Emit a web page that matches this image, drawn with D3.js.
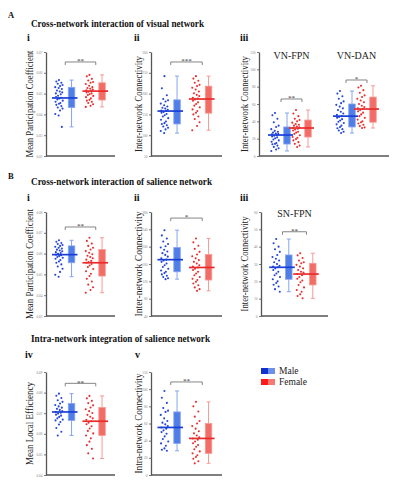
<!DOCTYPE html>
<html><head><meta charset="utf-8">
<script src="https://cdn.jsdelivr.net/npm/d3@7"></script>
<style>body{margin:0;background:#fff}</style>
</head><body>
<svg id="c" width="395" height="500"></svg>
<script>
const sexes = ["Male", "Female"];

// ---------- A-i : Mean Participation Coefficient (visual) ----------
const ticksAi = [0.02, 0.03, 0.04, 0.05, 0.06, 0.07];
const aiMale = [0.0565,0.0558,0.0552,0.0547,0.0541,0.0536,0.0531,0.0527,0.0522,0.0515,0.0510,0.0506,0.0501,0.0497,0.0490,0.0484,0.0480,0.0476,0.0472,0.0466,0.0461,0.0455,0.0451,0.0446,0.0440,0.0433,0.0428,0.0419,0.0402,0.0395,0.0340];
const aiFemale = [0.0590,0.0583,0.0571,0.0563,0.0556,0.0552,0.0546,0.0538,0.0531,0.0527,0.0523,0.0519,0.0516,0.0512,0.0509,0.0505,0.0501,0.0497,0.0493,0.0489,0.0483,0.0477,0.0470,0.0466,0.0461,0.0455,0.0449,0.0441,0.0436];
const aiMaleStats = [0.0340, 0.0433, 0.0479, 0.0530, 0.0565];
const aiFemaleStats = [0.0436, 0.0469, 0.0512, 0.0552, 0.0590];

// ---------- A-ii : Inter-network Connectivity (visual) ----------
const ticksAii = [50, 100, 150, 200, 250, 300];
const aiiMale = [242,213,196,187,184,181,176,172,169,166,164,161,159,158,156,154,151,148,145,141,137,133,129,127,124,121,118,114,110,105];
const aiiFemale = [242,236,231,226,221,218,214,210,205,201,197,194,190,188,186,183,179,175,171,167,162,158,154,150,145,139,131,122,112];
const aiiMaleStats = [105, 127, 158, 185, 242];
const aiiFemaleStats = [112, 153, 187, 218, 242];

// ---------- A-iii : VN-FPN / VN-DAN ----------
const ticksAiii = [0, 20, 40, 60, 80, 100, 120];
const pairsAiii = ["VN-FPN", "VN-DAN"];
const fpnMale = [49.6,47,43,39,35,33.5,31,29,28,27,26,25.5,25,24.2,23.5,22.5,21.5,20.5,19,18,16.5,15,14,13.5,12,10.5,9,7.5,5.8];
const fpnFemale = [53,49,46,43,41.5,40,38.5,37,36,35,34,33,32.3,31.5,30.5,29.5,28,27,25.5,24,22,21,19.5,18,16,14,12,10.4];
const fpnMaleStats = [5.8, 13.8, 24.2, 33.5, 49.6];
const fpnFemaleStats = [10.4, 21.9, 32.3, 41.5, 53];
const danMale = [75,72,69,66,63,61,59,57,55,53,51,49,47.5,46,45,44,42.5,41,39.5,38,36.5,35,33.5,32,31,29.5,28,26.5];
const danFemale = [81,79,76,73,70,68,66,64,62,60,58,56.5,55,54.2,53,51.5,50,48,46,44,42,40,39,37.5,36,34.5,33,32.3];
const danMaleStats = [26.5, 33.5, 46, 60, 75];
const danFemaleStats = [32.3, 39, 54.2, 68, 81];

// ---------- B-i : Mean Participation Coefficient (salience) ----------
const ticksBi = [0.03, 0.04, 0.05, 0.06, 0.07, 0.08];
const biMale = [0.0664,0.0657,0.0651,0.0646,0.0641,0.0637,0.0633,0.0628,0.0624,0.0619,0.0615,0.0611,0.0607,0.0603,0.0599,0.0595,0.0592,0.0588,0.0584,0.0580,0.0575,0.0569,0.0562,0.0556,0.0548,0.0538,0.0527,0.0512,0.0498,0.0489];
const biFemale = [0.0676,0.0661,0.0648,0.0637,0.0628,0.0620,0.0612,0.0604,0.0597,0.0590,0.0584,0.0578,0.0571,0.0565,0.0559,0.0556,0.0550,0.0543,0.0535,0.0526,0.0515,0.0503,0.0492,0.0479,0.0466,0.0451,0.0438,0.0425,0.0412];
const biMaleStats = [0.0489, 0.0556, 0.0595, 0.0637, 0.0664];
const biFemaleStats = [0.0412, 0.0492, 0.0556, 0.0620, 0.0676];

// ---------- B-ii : Inter-network Connectivity (salience) ----------
const ticksBii = [40, 80, 120, 160, 200, 240, 280];
const biiMale = [238,226,219,212,206,201,198,193,189,185,181,177,173,170,168,165,161,157,153,149,145,142,139,136,133,130,127,125];
const biiFemale = [219,210,202,195,188,182,178,173,169,165,161,157,154,152,149,146,142,138,134,130,126,123,119,115,111,106,102,98];
const biiMaleStats = [125, 142, 170, 198, 238];
const biiFemaleStats = [98, 123, 152, 182, 219];

// ---------- B-iii : SN-FPN ----------
const ticksBiii = [0, 10, 20, 30, 40, 50, 60];
const pairsBiii = ["SN-FPN"];
const biiiMale = [44.4,42,40,38.5,37,35.2,34,33,32,31,30,29,28.5,28.1,27.5,26.5,25.5,24.5,23.5,22.5,21.2,20,19,18,17,15.5,14];
const biiiFemale = [36.2,35,33.5,32,31,30.4,29.5,28.5,27.5,26.5,25.5,25,24.2,23.5,22.5,21.5,20.5,19.5,17.9,16.5,15,14,12.5,11.5,10.2];
const biiiMaleStats = [14, 21.2, 28.1, 35.2, 44.4];
const biiiFemaleStats = [10.2, 17.9, 24.2, 30.4, 36.2];

// ---------- C-iv : Mean Local Efficiency ----------
const ticksCiv = [0.04, 0.05, 0.06, 0.07, 0.08, 0.09];
const civMale = [0.0795,0.0785,0.0774,0.0763,0.0755,0.0747,0.0740,0.0733,0.0727,0.0721,0.0716,0.0711,0.0706,0.0702,0.0698,0.0693,0.0688,0.0682,0.0675,0.0669,0.0665,0.0657,0.0645,0.0628,0.0610,0.0592];
const civFemale = [0.0784,0.0772,0.0760,0.0749,0.0738,0.0728,0.0719,0.0710,0.0701,0.0692,0.0683,0.0675,0.0668,0.0661,0.0654,0.0646,0.0637,0.0626,0.0614,0.0602,0.0592,0.0578,0.0562,0.0545,0.0527,0.0505,0.0480];
const civMaleStats = [0.0592, 0.0665, 0.0706, 0.0747, 0.0795];
const civFemaleStats = [0.0480, 0.0592, 0.0661, 0.0728, 0.0784];

// ---------- C-v : Intra-network Connectivity ----------
const ticksCv = [0, 20, 40, 60, 80, 100, 120];
const cvMale = [97.9,90,84,78,75,73.5,70,66,63,61,59,57,55.4,54,52,50,48,45,42,39,36.8,34,31,29.5,28.2];
const cvFemale = [85.2,80,74,68,63,60,57,54,51,48.5,46,44,42.6,41,39,37,35,33,30,27.5,25.2,23,21,19,16,13.6];
const cvMaleStats = [28.2, 36.8, 55.4, 73.5, 97.9];
const cvFemaleStats = [13.6, 25.2, 42.6, 60, 85.2];

// significance (bracket level in data units, stars)
const sigLevels = { ai: 0.0652, aii: 276, fpn: 65.8, dan: 87.7, bi: 0.0728, bii: 266, biii: 48.6, civ: 0.0845, cv: 108.4 };
const sigStars  = { ai: "**", aii: "***", fpn: "**", dan: "*", bi: "**", bii: "*", biii: "**", civ: "**", cv: "**" };

// ---------------------------------------------------------------
const svg = d3.select("#c");
const serif = "'Liberation Serif','Times New Roman','DejaVu Serif',serif";
const col = {
  Male:   { dot: "#2346d9", box: "#4f7ee6", edge: "#86a4ee", med: "#1a3fd8", dark: "#1030d0", light: "#6a90ea" },
  Female: { dot: "#e8302e", box: "#f26d66", edge: "#f59b96", med: "#ea2b2b", dark: "#ff1a1a", light: "#f47a72" }
};

function text(x, y, s, opts = {}) {
  const t = svg.append("text").attr("x", x).attr("y", y).text(s)
    .attr("font-family", serif).attr("font-size", opts.size || 9)
    .attr("font-weight", opts.bold ? "bold" : "normal")
    .attr("fill", opts.fill || "#111")
    .attr("text-anchor", opts.anchor || "start");
  if (opts.len) t.attr("textLength", opts.len).attr("lengthAdjust", "spacingAndGlyphs");
  return t;
}

// deterministic horizontal spread for the dot clouds (layout only)
const spread = [0, -2.6, 2.4, -1.2, 3.6, 1.1, -3.7, -0.3, 2.9, -2.0, 0.8, 3.3, -3.1, 1.8, -0.9, -2.9, 2.1, 0.2, -1.6, 3.8, -3.4, 1.4];

function drawPanel(p) {
  const g = svg.append("g");
  const y = d3.scaleLinear().domain(p.domain).range(p.y);
  const outer = d3.scaleBand().domain(p.groups.map(d => d.name)).range(p.x).paddingOuter(0).paddingInner(0);
  const inner = d3.scaleBand().domain(sexes).range([0, outer.bandwidth()]).paddingOuter(p.pi).paddingInner(0);
  const off = p.off || 6.3, bw = 6.5;

  // axes
  const ax = d3.axisLeft(y).tickValues(p.ticks).tickFormat(p.fmt).tickSize(2).tickSizeOuter(0).tickPadding(1.5);
  const axg = g.append("g").attr("transform", `translate(${p.x[0]},0)`).call(ax);
  axg.select(".domain").attr("stroke", "#555").attr("stroke-width", 1.3);
  axg.selectAll(".tick line").attr("stroke", "#555").attr("stroke-width", 0.8);
  axg.selectAll(".tick text").attr("font-size", 3.5).attr("fill", "#888").attr("font-family", serif);
  g.append("line").attr("x1", p.x[0]).attr("x2", p.x[1]).attr("y1", p.y[0]).attr("y2", p.y[0])
    .attr("stroke", "#555").attr("stroke-width", 1.3);

  // y label
  const cy = (p.y[0] + p.y[1]) / 2;
  g.append("text").attr("transform", `translate(${p.ylx},${cy}) rotate(-90)`)
    .attr("text-anchor", "middle").attr("font-family", serif).attr("font-size", 11)
    .attr("fill", "#222").attr("textLength", p.yll).attr("lengthAdjust", "spacingAndGlyphs")
    .text(p.ylabel);

  p.groups.forEach(grp => {
    const cx = s => outer(grp.name) + inner(s) + inner.bandwidth() / 2;
    if (grp.label) {
      g.append("text").attr("x", outer(grp.name) + outer.bandwidth() / 2).attr("y", p.labelY)
        .attr("text-anchor", "middle").attr("font-family", serif).attr("font-size", 10)
        .attr("fill", "#222").text(grp.label);
    }
    sexes.forEach(s => {
      const vals = grp[s].vals, st = grp[s].stats, c = col[s];
      const bx = cx(s) + off, dx = cx(s) - off;
      // whisker
      g.append("line").attr("x1", bx).attr("x2", bx).attr("y1", y(st[0])).attr("y2", y(st[4]))
        .attr("stroke", c.edge).attr("stroke-width", 1);
      [st[0], st[4]].forEach(v => g.append("line").attr("x1", bx - 2).attr("x2", bx + 2)
        .attr("y1", y(v)).attr("y2", y(v)).attr("stroke", c.edge).attr("stroke-width", 1));
      // box
      g.append("rect").attr("x", bx - bw / 2).attr("width", bw)
        .attr("y", y(st[3])).attr("height", y(st[1]) - y(st[3]))
        .attr("fill", c.box).attr("stroke", c.edge).attr("stroke-width", 0.8);
      // dots
      g.selectAll(null).data(vals).enter().append("circle")
        .attr("cx", (d, i) => dx + spread[i % spread.length])
        .attr("cy", d => y(d)).attr("r", 1.05).attr("fill", c.dot);
      // median line
      g.append("line").attr("x1", dx - 7).attr("x2", bx + 6).attr("y1", y(st[2])).attr("y2", y(st[2]))
        .attr("stroke", c.med).attr("stroke-width", 1.7);
    });
    // significance bracket
    const x1 = cx("Male"), x2 = cx("Female"), by = y(grp.sig);
    g.append("path").attr("d", `M${x1},${by + 3}V${by}H${x2}V${by + 3}`)
      .attr("fill", "none").attr("stroke", "#666").attr("stroke-width", 0.8);
    g.append("text").attr("x", (x1 + x2) / 2).attr("y", by + 1.2).attr("text-anchor", "middle")
      .attr("font-family", serif).attr("font-size", 7).attr("fill", "#333").text(grp.stars);
  });
}

const f2 = d3.format(".2f"), f0 = d3.format("d");
const mk = (name, label, m, ms, f, fs, key) => ({ name, label, Male: { vals: m, stats: ms }, Female: { vals: f, stats: fs }, sig: sigLevels[key], stars: sigStars[key] });

// Section headings
text(8, 18, "A", { bold: true, size: 8.5 });
text(31, 27, "Cross-network interaction of visual network", { bold: true, size: 9.8, len: 173 });
text(27, 41, "i", { bold: true, size: 10 });
text(134, 41, "ii", { bold: true, size: 10 });
text(240, 41, "iii", { bold: true, size: 10 });

text(8, 179, "B", { bold: true, size: 8.5 });
text(31, 185, "Cross-network interaction of salience network", { bold: true, size: 9.8, len: 181 });
text(27, 201, "i", { bold: true, size: 10 });
text(134, 201, "ii", { bold: true, size: 10 });
text(240, 201, "iii", { bold: true, size: 10 });

text(31, 342, "Intra-network integration of salience network", { bold: true, size: 9.8, len: 179 });
text(25, 358, "iv", { bold: true, size: 10 });
text(135, 358, "v", { bold: true, size: 10 });

drawPanel({ x: [46, 115], y: [156, 52], domain: [0.02, 0.07], ticks: ticksAi, fmt: f2, pi: 0.131,
  ylabel: "Mean Participation Coefficient", ylx: 33, yll: 107,
  groups: [mk("a", null, aiMale, aiMaleStats, aiFemale, aiFemaleStats, "ai")] });
drawPanel({ x: [151, 222], y: [156, 52], domain: [50, 300], ticks: ticksAii, fmt: f0, pi: 0.127,
  ylabel: "Inter-network Connectivity", ylx: 141.5, yll: 96,
  groups: [mk("a", null, aiiMale, aiiMaleStats, aiiFemale, aiiFemaleStats, "aii")] });
drawPanel({ x: [259, 389], y: [156, 52], domain: [0, 120], ticks: ticksAiii, fmt: f0, pi: 0.548, off: 6,
  ylabel: "Inter-network Connectivity", ylx: 247.5, yll: 96, labelY: 59,
  groups: [mk(pairsAiii[0], pairsAiii[0], fpnMale, fpnMaleStats, fpnFemale, fpnFemaleStats, "fpn"),
           mk(pairsAiii[1], pairsAiii[1], danMale, danMaleStats, danFemale, danFemaleStats, "dan")] });

drawPanel({ x: [46, 115], y: [316, 212], domain: [0.03, 0.08], ticks: ticksBi, fmt: f2, pi: 0.131,
  ylabel: "Mean Participation Coefficient", ylx: 33, yll: 110,
  groups: [mk("b", null, biMale, biMaleStats, biFemale, biFemaleStats, "bi")] });
drawPanel({ x: [151, 222], y: [316, 212], domain: [40, 280], ticks: ticksBii, fmt: f0, pi: 0.127,
  ylabel: "Inter-network Connectivity", ylx: 141.5, yll: 105,
  groups: [mk("b", null, biiMale, biiMaleStats, biiFemale, biiFemaleStats, "bii")] });
drawPanel({ x: [261, 328], y: [316, 212], domain: [0, 60], ticks: ticksBiii, fmt: f0, pi: 0.396,
  ylabel: "Inter-network Connectivity", ylx: 248, yll: 95, labelY: 217,
  groups: [mk(pairsBiii[0], pairsBiii[0], biiiMale, biiiMaleStats, biiiFemale, biiiFemaleStats, "biii")] });

drawPanel({ x: [46, 115], y: [475, 372], domain: [0.04, 0.09], ticks: ticksCiv, fmt: f2, pi: 0.131,
  ylabel: "Mean Local Efficiency", ylx: 33, yll: 83,
  groups: [mk("c", null, civMale, civMaleStats, civFemale, civFemaleStats, "civ")] });
drawPanel({ x: [151, 222], y: [475, 372], domain: [0, 120], ticks: ticksCv, fmt: f0, pi: 0.127,
  ylabel: "Intra-network Connectivity", ylx: 141.5, yll: 100,
  groups: [mk("c", null, cvMale, cvMaleStats, cvFemale, cvFemaleStats, "cv")] });

// legend
const lg = svg.append("g");
sexes.forEach((s, i) => {
  const yy = 368 + i * 11;
  lg.append("rect").attr("x", 261).attr("y", yy).attr("width", 7).attr("height", 6).attr("fill", col[s].dark);
  lg.append("rect").attr("x", 268).attr("y", yy).attr("width", 7).attr("height", 6).attr("fill", col[s].light);
  lg.append("text").attr("x", 279).attr("y", yy + 6).attr("font-family", serif).attr("font-size", 9.5)
    .attr("fill", "#222").text(s);
});
</script>
</body></html>
